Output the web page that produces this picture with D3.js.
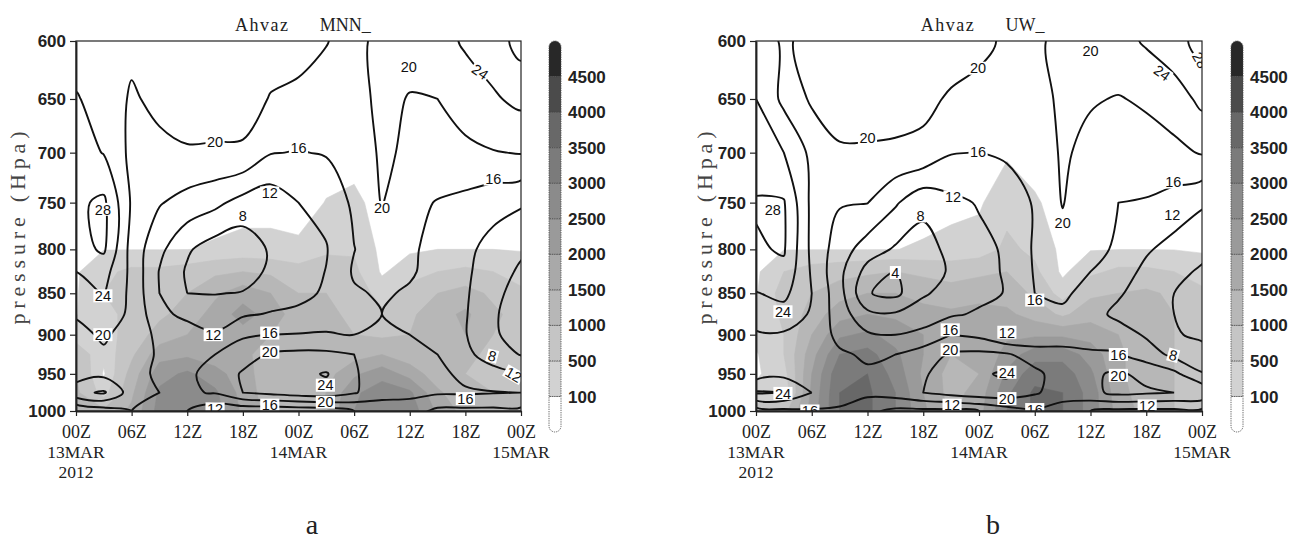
<!DOCTYPE html>
<html>
<head>
<meta charset="utf-8">
<script src="https://cdn.jsdelivr.net/npm/d3@7/dist/d3.min.js"></script>
<style>
  body { margin: 0; background: #fff; }
  svg { display: block; }
</style>
</head>
<body>
<svg id="figura" width="1306" height="540"></svg>
<script>
// grade: horas (3 em 3) x niveis de pressao
var horas = [0, 3, 6, 9, 12, 15, 18, 21, 24, 27, 30, 33, 36, 39, 42, 45, 48];
var niveis = [600, 650, 700, 750, 800, 825, 850, 875, 900, 925, 950, 975, 1000];

var horasTicks = [0, 6, 12, 18, 24, 30, 36, 42, 48];
var rotulosHora = ["00Z", "06Z", "12Z", "18Z", "00Z", "06Z", "12Z", "18Z", "00Z"];
var diasTicks = [0, 24, 48];
var rotulosDia = ["13MAR", "14MAR", "15MAR"];
var ano = "2012";
var pressaoTicks = [600, 650, 700, 750, 800, 850, 900, 950, 1000];

var limiaresSombra = [100, 500, 1000, 1500, 2000, 2500, 3000, 3500, 4000, 4500];
var coresSombra = ["#d2d2d2", "#c5c5c5", "#b7b7b7", "#a9a9a9", "#9a9a9a", "#8b8b8b", "#7b7b7b", "#686868", "#4b4b4b", "#282828"];
var niveisContorno = [4, 8, 12, 16, 20, 24, 28];

// painel a (MNN)
var sombraMNN = [
  [0, 0, 0, 0, 0, 0, 0, 0, 0, 0, 0, 0, 0, 0, 0, 0, 0],
  [0, 0, 0, 0, 0, 0, 0, 0, 0, 0, 0, 0, 0, 0, 0, 0, 0],
  [0, 0, 0, 0, 0, 0, 0, 0, 0, 0, 0, 0, 0, 0, 0, 0, 0],
  [0, 0, 0, 0, 0, 0, 0, 0, 0, 110, 160, 0, 0, 0, 0, 0, 0],
  [30, 90, 90, 90, 95, 130, 185, 185, 145, 400, 450, 0, 50, 100, 100, 100, 80],
  [50, 400, 600, 600, 700, 900, 1000, 900, 700, 800, 600, 50, 300, 500, 600, 500, 300],
  [60, 500, 700, 800, 1000, 1400, 1800, 1500, 1000, 1000, 800, 300, 700, 1000, 1200, 900, 600],
  [80, 400, 600, 900, 1200, 1700, 2200, 1800, 1200, 1100, 900, 600, 900, 1300, 1600, 1100, 800],
  [300, 300, 700, 1200, 1500, 1600, 1800, 1500, 1200, 1100, 1000, 900, 1000, 1300, 1500, 1000, 700],
  [800, 200, 900, 1800, 1900, 1700, 1600, 1300, 1100, 1200, 1300, 1500, 1200, 1100, 1100, 900, 800],
  [1000, 50, 1200, 2300, 2600, 2200, 1700, 1200, 1100, 1300, 1900, 2300, 1800, 1200, 1000, 900, 900],
  [1100, 300, 1400, 2600, 3000, 2600, 1800, 1200, 1200, 1500, 2400, 2800, 2600, 1600, 1100, 1000, 1000],
  [1300, 1100, 1600, 2700, 3000, 2700, 1900, 1300, 1300, 1600, 2500, 3000, 2800, 1900, 1300, 1100, 1000]
];
var ventoMNN = [
  [22, 21.5, 21, 22, 22, 22, 22, 21.5, 20.8, 20.1, 19, 21, 21.5, 22.5, 24.5, 26, 29.5],
  [24.3, 22.5, 19.5, 21, 21.5, 21.5, 21.5, 19.8, 19.5, 19, 18.5, 21, 19.8, 20, 22, 23.5, 25],
  [26, 23.8, 19, 19, 19.7, 19.6, 19.5, 16.2, 15.8, 16.3, 18, 20.5, 19.5, 18.5, 19, 19.8, 20.2],
  [27.2, 28.8, 19.5, 16.3, 14.5, 13, 10.5, 9.5, 12, 13, 16.8, 20.2, 17, 15.8, 15, 13.5, 12.5],
  [26.5, 28.6, 18.5, 13, 8.5, 6, 5.5, 8.5, 10, 11.8, 15.9, 18.5, 16.5, 15, 13, 10.5, 8.5],
  [24, 25.5, 19, 11.8, 7.5, 5.5, 5.5, 9, 10.5, 12.1, 16.5, 17.5, 16.5, 14.5, 12.8, 9.5, 7.5],
  [22.5, 24.2, 19, 12, 8, 7.8, 8.3, 10, 11, 12.5, 15.5, 16.5, 15.5, 14, 12.5, 9, 6.5],
  [20.3, 22, 19.3, 13, 11, 11, 11.5, 12.3, 12.8, 13, 15, 16, 15, 13.5, 12.3, 8.5, 6],
  [19, 20.5, 18.5, 15, 14, 12.2, 15.5, 16, 16.2, 16.5, 16, 16.5, 16, 14, 12.2, 8.5, 6.5],
  [18.5, 19.5, 18, 15.5, 15, 16, 18, 20.5, 21, 20.8, 20, 18, 17, 16, 13, 10, 7.8],
  [17.5, 19, 17, 15.5, 15.5, 17, 20.5, 22, 23, 24.3, 20.5, 17.5, 16.5, 17, 15, 13.5, 12.2],
  [23, 24.5, 18, 16, 15.5, 16.3, 20, 21, 22, 22.5, 20.3, 18, 17, 16.5, 16.5, 16.2, 16],
  [12, 14, 16, 15, 12, 9, 9, 9, 9.5, 10, 12, 13, 14, 11, 11, 11, 11]
];
// [texto, hora, hPa, angulo]
var rotulosMNN = [
  ["28", 2.9, 757, 0], ["24", 2.9, 853, 0], ["20", 2.9, 900, 0],
  ["20", 15, 690, 0], ["16", 24, 695, 0], ["12", 20.9, 740, 0], ["8", 18, 764, 0],
  ["12", 14.8, 900, 0], ["16", 20.9, 898, 0], ["20", 20.9, 922, 0],
  ["12", 15, 997, 0], ["16", 20.9, 992, 0], ["24", 26.9, 965, 0], ["20", 26.9, 988, 0],
  ["20", 33, 755, 0], ["20", 35.9, 622, 0], ["24", 43.6, 626, 35], ["16", 45, 726, 0],
  ["8", 44.9, 927, 15], ["12", 47.2, 951, 30], ["16", 42, 983, 0]
];

// painel b (UW)
var sombraUW = [
  [0, 0, 0, 0, 0, 0, 0, 0, 0, 0, 0, 0, 0, 0, 0, 0, 0],
  [0, 0, 0, 0, 0, 0, 0, 0, 0, 0, 0, 0, 0, 0, 0, 0, 0],
  [0, 0, 0, 0, 0, 0, 0, 0, 0, 50, 0, 0, 0, 0, 0, 0, 0],
  [0, 0, 0, 0, 0, 0, 0, 30, 50, 350, 130, 0, 0, 0, 0, 0, 0],
  [0, 90, 90, 90, 90, 95, 130, 180, 250, 600, 400, 0, 80, 95, 95, 90, 60],
  [30, 500, 700, 800, 900, 1000, 900, 800, 900, 1000, 600, 20, 400, 600, 600, 500, 300],
  [60, 700, 1000, 1300, 1500, 1500, 1300, 1200, 1300, 1300, 900, 300, 900, 1000, 1100, 900, 600],
  [100, 600, 1200, 1800, 2000, 1900, 1700, 1600, 1700, 1600, 1300, 900, 1300, 1300, 1300, 1000, 800],
  [200, 500, 1500, 2400, 2600, 2300, 2000, 1700, 1800, 1900, 1900, 1900, 1800, 1500, 1300, 1000, 900],
  [60, 500, 1800, 3000, 3200, 2600, 2000, 1500, 1500, 2200, 2800, 2800, 2300, 1600, 1200, 1000, 900],
  [50, 300, 2000, 3400, 3500, 2800, 1900, 1300, 1500, 2600, 3300, 3300, 2600, 1600, 1200, 1000, 900],
  [200, 150, 2100, 3500, 3600, 3000, 2000, 1300, 1700, 2900, 3600, 3500, 2800, 1700, 1200, 1000, 900],
  [700, 800, 2200, 3500, 3600, 3000, 2100, 1400, 1800, 3000, 3600, 3500, 2800, 1800, 1300, 1000, 900]
];
var ventoUW = [
  [22, 19.5, 21, 22, 22, 22, 22, 22, 20.8, 19.5, 19, 21.5, 21.5, 22.5, 24.5, 26.5, 29.5],
  [24, 19, 20.2, 21.5, 21.5, 21.5, 21, 19.5, 19, 18.5, 18, 21, 20.3, 19.8, 20.5, 22, 25],
  [25.5, 24, 19, 19.6, 19.6, 19.4, 19, 16.2, 15.9, 16.8, 17.5, 20.5, 19, 18, 18.5, 19, 20.3],
  [28.4, 28.3, 19, 16.3, 16.1, 12.5, 9, 11, 12.3, 13, 16.5, 20.2, 17, 16, 15.7, 14.5, 12.5],
  [27.5, 28.4, 19, 14, 10, 7.5, 6.5, 9, 11, 12.5, 16.5, 18.5, 17, 15.5, 12.5, 10.5, 9],
  [26, 27, 19.5, 13, 6.5, 4, 6, 8.5, 10.5, 12.5, 16.3, 17.5, 16, 14, 11, 9, 7.5],
  [23.8, 25, 20, 13.5, 4.2, 3, 7.5, 9.5, 11, 12.2, 16, 16.5, 15, 12.5, 10, 8, 6.5],
  [22, 22.5, 19.5, 14, 9, 8.5, 10, 11.5, 12.5, 12.5, 14, 15.5, 13.5, 11, 9.5, 8, 6],
  [19.5, 19.5, 18.5, 15, 12.5, 12, 13, 16, 15, 12, 13, 14.5, 14.5, 14, 11.5, 8.5, 7],
  [18.5, 19, 18, 16.5, 15.5, 16, 18, 20.5, 21, 20.5, 18, 17, 16.5, 16.3, 14, 11, 10],
  [18, 19, 18.5, 17, 16.5, 17.5, 19.5, 22, 23.5, 24.5, 21, 18, 19.5, 20.5, 19, 17, 12.2],
  [24.5, 24, 20, 17.5, 17, 18, 20, 21.5, 22.5, 22.5, 20.5, 18, 19, 21, 20.5, 20, 19.5],
  [14, 15, 15.5, 15.5, 13, 11, 11, 11, 12, 14, 15.5, 14, 12, 11, 11, 11, 11]
];
var rotulosUW = [
  ["28", 1.8, 757, 0], ["24", 2.9, 872, 0], ["24", 2.9, 976, 0], ["16", 5.8, 1000, 0],
  ["20", 12, 686, 0], ["20", 23.9, 623, 0], ["16", 23.9, 699, 0], ["12", 21.2, 744, 0],
  ["8", 17.7, 764, 0], ["4", 15, 826, 0], ["16", 20.9, 894, 0], ["20", 20.9, 919, 0],
  ["12", 27, 897, 0], ["24", 27, 948, 0], ["20", 27, 983, 0], ["12", 21.1, 992, 0],
  ["16", 30, 998, 0], ["20", 33, 771, 0], ["20", 36, 608, 0], ["24", 43.7, 627, 35],
  ["28", 47.8, 616, 60], ["16", 44.9, 729, 0], ["12", 44.8, 763, 0], ["16", 30, 858, 0],
  ["16", 39, 925, 0], ["20", 39, 952, 0], ["8", 44.9, 926, 15], ["12", 42.1, 993, 0]
];

var svg = d3.select("#figura");
var topo = 41, base = 411;
var y = d3.scaleLog().domain([600, 1000]).range([topo, base]);
var serif = "'Liberation Serif', 'Times New Roman', serif";
var sans = "'Liberation Sans', Arial, sans-serif";

function painel(cfg) {
  var x = d3.scaleLinear().domain([0, 48]).range([cfg.x0, cfg.x1]);
  var nx = horas.length, ny = niveis.length;
  var horaDoIndice = d3.scaleLinear().domain([0, nx - 1]).range([horas[0], horas[nx - 1]]);
  var nivelDoIndice = d3.scaleLinear().domain(d3.range(ny)).range(niveis);
  function px(c) { return x(horaDoIndice(c - 0.5)); }
  function py(c) { return y(nivelDoIndice(c - 0.5)); }

  var idClip = "clip" + cfg.nome;
  svg.append("clipPath").attr("id", idClip).append("rect")
    .attr("x", cfg.x0).attr("y", topo).attr("width", cfg.x1 - cfg.x0).attr("height", base - topo);
  var g = svg.append("g").attr("clip-path", "url(#" + idClip + ")");

  var projecao = d3.geoTransform({ point: function(a, b) { this.stream.point(px(a), py(b)); } });
  var caminho = d3.geoPath(projecao);

  // sombreado
  var sombras = d3.contours().size([nx, ny]).thresholds(limiaresSombra)(cfg.sombra.flat());
  g.selectAll("path.sombra").data(sombras).join("path")
    .attr("class", "sombra")
    .attr("d", caminho)
    .attr("fill-rule", "evenodd")
    .attr("fill", function(d, i) { return coresSombra[i]; })
    .attr("stroke", function(d, i) { return coresSombra[i]; })
    .attr("stroke-width", 0.6);

  // isolinhas
  var linha = d3.line().curve(d3.curveCatmullRomClosed.alpha(0.5));
  var isolinhas = d3.contours().size([nx, ny]).thresholds(niveisContorno)(cfg.vento.flat());
  isolinhas.forEach(function(iso) {
    iso.coordinates.forEach(function(poligono) {
      poligono.forEach(function(anel) {
        var pts = anel.slice(0, -1).map(function(p) { return [px(p[0]), py(p[1])]; });
        g.append("path").attr("d", linha(pts))
          .attr("fill", "none").attr("stroke", "#111").attr("stroke-width", 1.9)
          .attr("stroke-linejoin", "round");
      });
    });
  });

  // rotulos das isolinhas
  cfg.rotulos.forEach(function(r) {
    var gr = g.append("g").attr("transform", "translate(" + x(r[1]) + "," + y(r[2]) + ") rotate(" + r[3] + ")");
    var fundo = gr.append("rect").attr("fill", "#fff");
    var t = gr.append("text").text(r[0])
      .attr("text-anchor", "middle").attr("dy", "0.36em")
      .attr("font-family", sans).attr("font-size", 14.5).attr("fill", "#111");
    var w = t.node().getComputedTextLength();
    fundo.attr("x", -w / 2 - 1.5).attr("y", -6.5).attr("width", w + 3).attr("height", 13);
  });

  // moldura
  svg.append("rect").attr("x", cfg.x0).attr("y", topo).attr("width", cfg.x1 - cfg.x0).attr("height", base - topo)
    .attr("fill", "none").attr("stroke", "#222").attr("stroke-width", 1.2);

  // eixo y
  var gy = svg.append("g").attr("transform", "translate(" + cfg.x0 + ",0)")
    .call(d3.axisLeft(y).tickValues(pressaoTicks).tickFormat(d3.format("d")).tickSize(6).tickSizeOuter(0).tickPadding(4));
  gy.select(".domain").attr("stroke", "#222").attr("stroke-width", 1.9);
  gy.selectAll(".tick line").attr("stroke", "#222").attr("stroke-width", 1.2);
  gy.selectAll("text").attr("font-family", sans).attr("font-size", 17).attr("font-weight", "bold").attr("fill", "#222");

  // eixo x
  var gx = svg.append("g").attr("transform", "translate(0," + base + ")")
    .call(d3.axisBottom(x).tickValues(horasTicks).tickFormat(function(d, i) { return rotulosHora[i]; })
      .tickSize(5).tickSizeOuter(0).tickPadding(9));
  gx.select(".domain").attr("stroke", "#222").attr("stroke-width", 1.9);
  gx.selectAll(".tick line").attr("stroke", "#222").attr("stroke-width", 1.2);
  gx.selectAll("text").attr("font-family", serif).attr("font-size", 18).attr("fill", "#222");

  diasTicks.forEach(function(h, i) {
    svg.append("text").attr("x", x(h)).attr("y", 458).attr("text-anchor", "middle")
      .attr("font-family", serif).attr("font-size", 17.5).attr("fill", "#222").text(rotulosDia[i]);
  });
  svg.append("text").attr("x", x(0)).attr("y", 478).attr("text-anchor", "middle")
    .attr("font-family", serif).attr("font-size", 17.5).attr("fill", "#222").text(ano);

  // titulo
  var cx = (cfg.x0 + cfg.x1) / 2;
  var passo = 10.6;
  var x0t = cx - (8 + cfg.modelo.length) * passo / 2;
  svg.append("text").attr("x", x0t).attr("y", 31).attr("font-family", serif).attr("font-size", 18)
    .attr("letter-spacing", 1.5).attr("fill", "#222").text("Ahvaz");
  svg.append("text").attr("x", x0t + 8 * passo).attr("y", 31).attr("font-family", serif).attr("font-size", 18)
    .attr("fill", "#222").text(cfg.modelo);

  // titulo do eixo y
  svg.append("text").attr("transform", "translate(" + cfg.xTituloY + ",228) rotate(-90)")
    .attr("text-anchor", "middle").attr("dy", "0.35em")
    .attr("font-family", serif).attr("font-size", 22).attr("fill", "#444")
    .attr("textLength", 193).attr("lengthAdjust", "spacing").text("pressure (Hpa)");

  barraCores(cfg.xBarra);

  svg.append("text").attr("x", cfg.xLetra).attr("y", 534).attr("text-anchor", "middle")
    .attr("font-family", serif).attr("font-size", 28).attr("fill", "#222").text(cfg.letra);
}

function barraCores(xb) {
  var b0 = 41, b1 = 432, lw = 12, r = 6;
  var h = (b1 - b0) / 11;
  var cores = ["#ffffff"].concat(coresSombra);
  var g = svg.append("g");
  cores.forEach(function(c, i) {
    var ya = b1 - (i + 1) * h, yb = b1 - i * h;
    var d;
    if (i == 0) {
      d = "M" + xb + "," + ya + "H" + (xb + lw) + "V" + (b1 - r) + "A" + r + "," + r + " 0 0 1 " + xb + "," + (b1 - r) + "Z";
    } else if (i == cores.length - 1) {
      d = "M" + xb + "," + yb + "V" + (b0 + r) + "A" + r + "," + r + " 0 0 1 " + (xb + lw) + "," + (b0 + r) + "V" + yb + "Z";
    } else {
      d = "M" + xb + "," + ya + "h" + lw + "v" + h + "h" + (-lw) + "Z";
    }
    g.append("path").attr("d", d).attr("fill", c)
      .attr("stroke", "#444").attr("stroke-width", 0.8).attr("stroke-dasharray", "1.3,1");
  });
  limiaresSombra.forEach(function(v, i) {
    g.append("text").attr("x", xb + 19).attr("y", b1 - (i + 1) * h).attr("dy", "0.36em")
      .attr("font-family", sans).attr("font-size", 17).attr("font-weight", "bold").attr("fill", "#222")
      .text(v);
  });
}

painel({ nome: "a", modelo: "MNN_", x0: 76, x1: 521, xBarra: 549, xTituloY: 17, xLetra: 312, letra: "a",
  sombra: sombraMNN, vento: ventoMNN, rotulos: rotulosMNN });
painel({ nome: "b", modelo: "UW_", x0: 756, x1: 1202, xBarra: 1231, xTituloY: 704, xLetra: 993, letra: "b",
  sombra: sombraUW, vento: ventoUW, rotulos: rotulosUW });
</script>
</body>
</html>
